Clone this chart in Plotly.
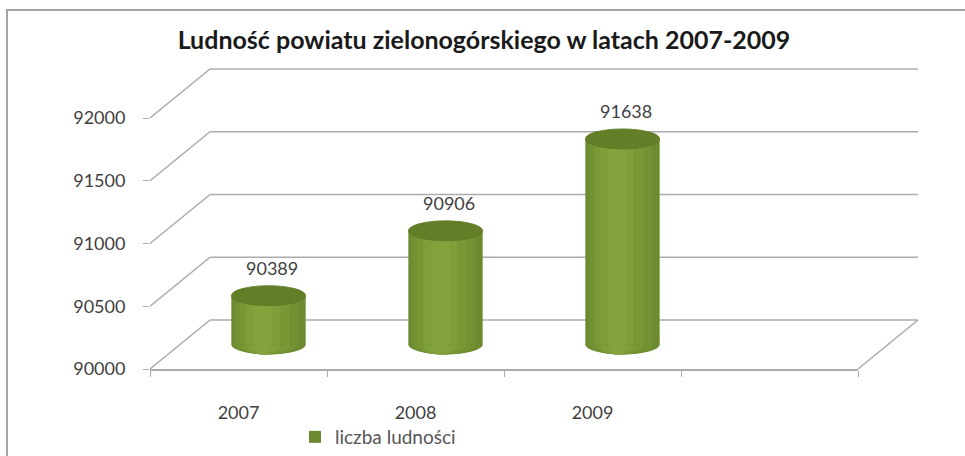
import plotly.graph_objects as go

# ---------------- data ----------------
years = ["2007", "2008", "2009"]
population = [90389, 90906, 91638]
series_name = "liczba ludności"
title_text = "Ludność powiatu zielonogórskiego w latach 2007-2009"
y_ticks = [90000, 90500, 91000, 91500, 92000]
y_tick_text = ["90000", "90500", "91000", "91500", "92000"]

# ---------------- geometry (pixels of the reference picture) ----------------
W, H = 965, 456
Y_MIN, Y_MAX = 90000, 92000
X_MIN, X_MAX = 0.5, 4.5           # 3 categories + one empty slot
FL, FR, FB, FT = 150, 858, 369, 118   # front plane
DX, DY = 60, 49                       # depth offset
BAR_W = 0.42
RY_PX = 10

def px_x(p):
    return p / W

def px_y(p):
    return 1 - p / H

def plane(shift):
    l, r = FL + DX * shift, FR + DX * shift
    b, t = FB - DY * shift, FT - DY * shift
    return [px_x(l), px_x(r)], [px_y(b), px_y(t)]

def to_paper(x, v, shift):
    xd, yd = plane(shift)
    xp = xd[0] + (x - X_MIN) / (X_MAX - X_MIN) * (xd[1] - xd[0])
    yp = yd[0] + (v - Y_MIN) / (Y_MAX - Y_MIN) * (yd[1] - yd[0])
    return xp, yp

grid_col = "#ABABAB"
grid_w = 1.6
txt_col = "#3F3F3F"
FONT = "Lato"

fig = go.Figure()

# ---------------- cylinders (mid-depth axes x3/y3) ----------------
x_pos = [1, 2, 3]
fig.add_trace(go.Bar(
    x=x_pos, y=population, width=BAR_W, name=series_name,
    marker=dict(color="#6C8A2F", line=dict(width=0)),
    xaxis="x3", yaxis="y3", showlegend=True, hoverinfo="y",
))
stripes = [(0.36, -0.01, "#729132"), (0.28, -0.02, "#789836"),
           (0.19, -0.03, "#7E9F3A"), (0.10, -0.03, "#83A43D")]
for w, s, c in stripes:
    fig.add_trace(go.Bar(
        x=x_pos, y=population, width=w, offset=-w / 2 + s,
        marker=dict(color=c, line=dict(width=0)),
        xaxis="x3", yaxis="y3", showlegend=False, hoverinfo="skip",
    ))

shapes = []
ry_paper = RY_PX / H
for xi, v in zip(x_pos, population):
    for w, s, c in [(BAR_W, 0, "#6C8A2F")] + stripes:
        cx, cy = to_paper(xi + s, Y_MIN, 0.5)
        half = w / 2 / (X_MAX - X_MIN) * (FR - FL) / W
        shapes.append(dict(type="circle", xref="paper", yref="paper",
                           x0=cx - half, x1=cx + half, y0=cy - ry_paper, y1=cy + ry_paper,
                           fillcolor=c, line=dict(width=0), layer="below"))
    cx, cy = to_paper(xi, v, 0.5)
    half = BAR_W / 2 / (X_MAX - X_MIN) * (FR - FL) / W
    shapes.append(dict(type="circle", xref="paper", yref="paper",
                       x0=cx - half, x1=cx + half, y0=cy - ry_paper, y1=cy + ry_paper,
                       fillcolor="#627F28", line=dict(color="#5C7825", width=0.8), layer="above"))

# back-wall gridlines and side-wall diagonals
for v in y_ticks:
    x0, y0 = to_paper(X_MIN, v, 0)
    x1, y1 = to_paper(X_MIN, v, 1)
    x2, _ = to_paper(X_MAX, v, 1)
    shapes.append(dict(type="line", xref="paper", yref="paper", x0=x0, y0=y0, x1=x1, y1=y1,
                       line=dict(color=grid_col, width=grid_w), layer="below"))
    shapes.append(dict(type="line", xref="paper", yref="paper", x0=x1, y0=y1, x1=x2, y1=y1,
                       line=dict(color=grid_col, width=grid_w), layer="below"))
# right floor edge
x0, y0 = to_paper(X_MAX, Y_MIN, 0)
x1, y1 = to_paper(X_MAX, Y_MIN, 1)
shapes.append(dict(type="line", xref="paper", yref="paper", x0=x0, y0=y0, x1=x1, y1=y1,
                   line=dict(color=grid_col, width=grid_w), layer="below"))
# chart border
shapes.append(dict(type="rect", xref="paper", yref="paper",
                   x0=px_x(7), x1=px_x(1000), y0=px_y(500), y1=px_y(10),
                   line=dict(color="#A5A5A5", width=2), fillcolor="rgba(0,0,0,0)", layer="below"))

# data labels
annotations = []
for xi, v in zip(x_pos, population):
    annotations.append(dict(x=xi, y=v, xref="x3", yref="y3", text=str(v),
                            showarrow=False, yshift=28, xshift=3,
                            font=dict(family=FONT, size=18, color=txt_col)))

xd0, yd0 = plane(0)
xdm, ydm = plane(0.5)

fig.update_layout(
    template="none",
    width=W, height=H, autosize=False,
    margin=dict(l=0, r=0, t=0, b=0, pad=0, autoexpand=False),
    paper_bgcolor="white", plot_bgcolor="rgba(0,0,0,0)",
    barmode="overlay",
    title=dict(text="<b>" + title_text + "</b>", x=px_x(484), xanchor="center",
               y=px_y(40), yanchor="middle",
               font=dict(family=FONT, size=25, color="#1A1A1A")),
    xaxis=dict(domain=xd0, range=[X_MIN, X_MAX], anchor="y", automargin=False,
               tickmode="array", tickvals=x_pos, ticktext=years, ticks="",
               showgrid=False, zeroline=False, showline=True,
               linecolor=grid_col, linewidth=grid_w,
               ticklabelstandoff=27,
               tickfont=dict(family=FONT, size=18, color=txt_col),
               minor=dict(tickmode="array", tickvals=[0.5, 1.5, 2.5, 3.5, 4.5],
                          ticks="outside", ticklen=6, tickcolor=grid_col, tickwidth=1.2,
                          showgrid=False)),
    yaxis=dict(domain=yd0, range=[Y_MIN, Y_MAX], anchor="x", automargin=False,
               tickmode="array", tickvals=y_ticks, ticktext=y_tick_text,
               ticks="outside", ticklen=6,
               tickcolor=grid_col, tickwidth=1.4, showgrid=False, zeroline=False,
               showline=False, ticklabelstandoff=14,
               tickfont=dict(family=FONT, size=18, color=txt_col)),
    xaxis3=dict(domain=xdm, range=[X_MIN, X_MAX], anchor="y3", visible=False, automargin=False),
    yaxis3=dict(domain=ydm, range=[Y_MIN, Y_MAX], anchor="x3", visible=False, automargin=False),
    legend=dict(orientation="h", x=px_x(295), xanchor="left",
                y=px_y(437), yanchor="middle",
                font=dict(family=FONT, size=19, color="#555555"),
                bgcolor="rgba(0,0,0,0)", itemwidth=30),
    shapes=shapes,
    annotations=annotations,
)

fig.add_trace(go.Scatter(x=[], y=[], xaxis="x", yaxis="y", showlegend=False))

# remove the default page margin so the figure sits at the window origin
fig.write_html("out.html",
               config={"displayModeBar": False},
               post_script="document.body.style.margin='0';document.body.style.overflow='hidden';")
